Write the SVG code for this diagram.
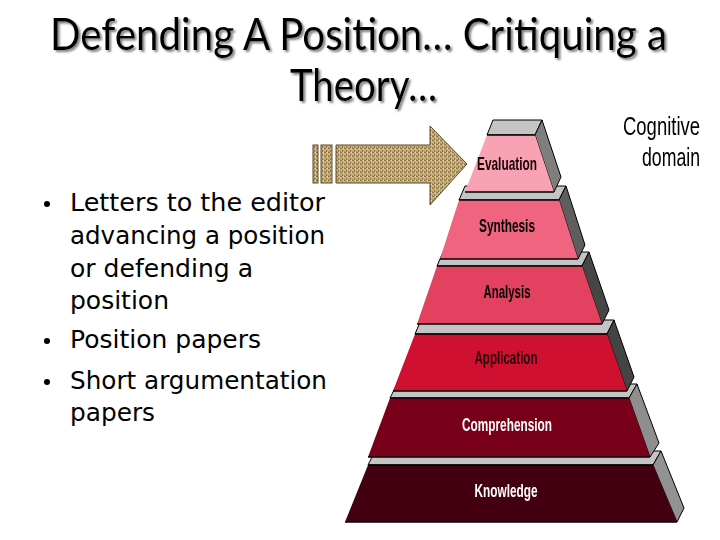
<svg xmlns="http://www.w3.org/2000/svg" width="720" height="540" viewBox="0 0 720 540">
<defs>
<pattern id="burlap" width="4" height="4" patternUnits="userSpaceOnUse">
<rect width="4" height="4" fill="#c9b07a"/>
<rect x="0" y="0" width="2" height="1" fill="#8c7448"/>
<rect x="2" y="2" width="1" height="2" fill="#8c7448"/>
<rect x="3" y="0" width="1" height="1" fill="#ead9a9"/>
<rect x="0" y="3" width="1" height="1" fill="#a88f5e"/>
</pattern>
<filter id="ds" x="-5%" y="-20%" width="110%" height="150%">
<feDropShadow dx="2" dy="2" stdDeviation="0.8" flood-color="#707070" flood-opacity="0.9"/>
</filter>
</defs>
<style>
.title{font-family:Lato,"Open Sans","Liberation Sans",sans-serif;font-size:36px;fill:#000;}
.bul{font-family:"DejaVu Sans","Liberation Sans",sans-serif;font-size:25px;fill:#000;}
.lbl{font-family:"Liberation Sans Narrow","Liberation Sans",sans-serif;font-size:19px;font-weight:bold;text-anchor:middle;}
.dom{font-family:"Liberation Sans Narrow","Liberation Sans",sans-serif;font-size:23px;text-anchor:end;fill:#000;}
.top{fill:#c4c4c4;stroke:#000;stroke-width:1;}
.edge{stroke:#000;stroke-width:1.5;fill:none;}
.side{stroke:#000;stroke-width:1;}
</style>
<rect width="720" height="540" fill="#fff"/>

<g id="title" filter="url(#ds)">
<text class="title" transform="translate(50,50) scale(1,1.22)" x="0" y="0" textLength="617" lengthAdjust="spacingAndGlyphs">Defending A Position… Critiquing a</text>
<text class="title" transform="translate(290,101) scale(1,1.22)" x="0" y="0" textLength="147" lengthAdjust="spacingAndGlyphs">Theory…</text>
</g>

<g id="bullets">
<circle cx="47" cy="204" r="3"/>
<circle cx="47" cy="341" r="3"/>
<circle cx="47" cy="382" r="3"/>
<text class="bul" x="70" y="211" textLength="255" lengthAdjust="spacingAndGlyphs">Letters to the editor</text>
<text class="bul" x="70" y="244" textLength="255" lengthAdjust="spacingAndGlyphs">advancing a position</text>
<text class="bul" x="70" y="277" textLength="183" lengthAdjust="spacingAndGlyphs">or defending a</text>
<text class="bul" x="70" y="309" textLength="99" lengthAdjust="spacingAndGlyphs">position</text>
<text class="bul" x="70" y="348" textLength="191" lengthAdjust="spacingAndGlyphs">Position papers</text>
<text class="bul" x="70" y="389" textLength="257" lengthAdjust="spacingAndGlyphs">Short argumentation</text>
<text class="bul" x="70" y="421" textLength="85" lengthAdjust="spacingAndGlyphs">papers</text>
</g>

<g id="arrow" fill="url(#burlap)" stroke="#5c4a2a" stroke-width="1">
<rect x="313" y="145" width="5" height="38"/>
<rect x="321" y="145" width="11" height="38"/>
<polygon points="336,145 430,145 430,126 467,164 430,205 430,183 336,183"/>
</g>

<g id="cognitive-domain">
<text class="dom" transform="translate(700,135) scale(1,1.12)" x="0" y="0" textLength="77" lengthAdjust="spacingAndGlyphs">Cognitive</text>
<text class="dom" transform="translate(700,166) scale(1,1.12)" x="0" y="0" textLength="58" lengthAdjust="spacingAndGlyphs">domain</text>
</g>

<g id="knowledge">
<polygon class="top" points="368,465 653,465 661,451 375,451"/>
<polygon class="side" fill="#929292" points="653,465 661,451 684,508 677,522"/>
<polygon fill="#420010" points="368,465 653,465 677,522 345,522"/>
<line class="edge" x1="368" y1="465" x2="653" y2="465"/>
<line class="edge" x1="345" y1="522" x2="677" y2="522"/>
<text class="lbl" x="506" y="497" fill="#fff" textLength="63" lengthAdjust="spacingAndGlyphs">Knowledge</text>
</g>

<g id="comprehension">
<polygon class="top" points="390,398 629,398 637,384 397,384"/>
<polygon class="side" fill="#8e8e8e" points="629,398 637,384 659,443 650,457"/>
<polygon fill="#780019" points="390,398 629,398 650,457 368,457"/>
<line class="edge" x1="390" y1="398" x2="629" y2="398"/>
<line class="edge" x1="368" y1="457" x2="650" y2="457"/>
<text class="lbl" x="507" y="431" fill="#fff" textLength="90" lengthAdjust="spacingAndGlyphs">Comprehension</text>
</g>

<g id="application">
<polygon class="top" points="415,334 607,334 614,320 421,320"/>
<polygon class="side" fill="#444" points="607,334 614,320 634,377 627,391"/>
<polygon fill="#cf1030" points="415,334 607,334 627,391 393,391"/>
<line class="edge" x1="415" y1="334" x2="607" y2="334"/>
<line class="edge" x1="393" y1="391" x2="627" y2="391"/>
<text class="lbl" x="506" y="364" fill="#2a0008" textLength="63" lengthAdjust="spacingAndGlyphs">Application</text>
</g>

<g id="analysis">
<polygon class="top" points="437,266 582,266 589,252 443,252"/>
<polygon class="side" fill="#464646" points="582,266 589,252 609,310 602,324"/>
<polygon fill="#e2425f" points="437,266 582,266 602,324 417,324"/>
<line class="edge" x1="437" y1="266" x2="582" y2="266"/>
<line class="edge" x1="417" y1="324" x2="602" y2="324"/>
<text class="lbl" x="507" y="298" fill="#000" textLength="47" lengthAdjust="spacingAndGlyphs">Analysis</text>
</g>

<g id="synthesis">
<polygon class="top" points="459,200 559,200 566,186 465,186"/>
<polygon class="side" fill="#5e5e5e" points="559,200 566,186 585,245 578,259"/>
<polygon fill="#f0647f" points="459,200 559,200 578,259 440,259"/>
<line class="edge" x1="459" y1="200" x2="559" y2="200"/>
<line class="edge" x1="440" y1="259" x2="578" y2="259"/>
<text class="lbl" x="507" y="232" fill="#000" textLength="56" lengthAdjust="spacingAndGlyphs">Synthesis</text>
</g>

<g id="evaluation">
<polygon class="top" points="487,135 535,135 542,120 493,120"/>
<polygon class="side" fill="#7e7e7e" points="535,135 542,120 561,177 554,192"/>
<polygon fill="#f8a2b3" points="487,135 535,135 554,192 465,192"/>
<line class="edge" x1="487" y1="135" x2="535" y2="135"/>
<line class="edge" x1="465" y1="192" x2="554" y2="192"/>
<text class="lbl" x="507" y="170" fill="#1a0006" textLength="60" lengthAdjust="spacingAndGlyphs">Evaluation</text>
</g>
</svg>
